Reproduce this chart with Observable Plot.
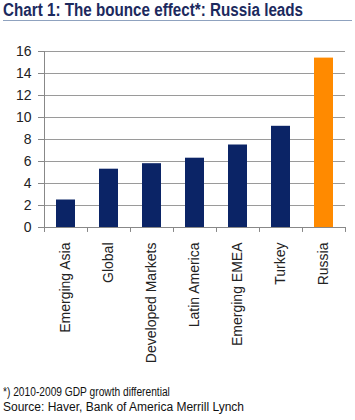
<!DOCTYPE html>
<html>
<head>
<meta charset="utf-8">
<script src="https://cdn.jsdelivr.net/npm/d3@7"></script>
<script src="https://cdn.jsdelivr.net/npm/@observablehq/plot@0.6"></script>
<style>
  html, body { margin: 0; padding: 0; background: #fff; }
  body { width: 355px; height: 420px; position: relative; overflow: hidden; font-family: "Liberation Sans", Arial, sans-serif; }
  #title { position: absolute; left: 3px; top: 0px; font-size: 18px; font-weight: bold; color: #1c2a5e; white-space: nowrap; transform-origin: left top; transform: scaleX(0.845); }
  #rule { position: absolute; left: 3px; top: 20px; width: 349px; height: 0; border-top: 1.5px solid #8fa2bf; }
  #chart { position: absolute; left: 0; top: 30px; }
  .note { position: absolute; left: 3px; font-size: 12px; color: #111; white-space: nowrap; transform-origin: left top; }
</style>
</head>
<body>
<div id="title">Chart 1: The bounce effect*: Russia leads</div>
<div id="rule"></div>
<div id="chart"></div>
<div class="note" style="top:385px; transform: scaleX(0.85)">*) 2010-2009 GDP growth differential</div>
<div class="note" style="top:400px">Source: Haver, Bank of America Merrill Lynch</div>
<script>
const categories = ["Emerging Asia", "Global", "Developed Markets", "Latin America", "Emerging EMEA", "Turkey", "Russia"];
const values = [2.5, 5.3, 5.8, 6.3, 7.5, 9.2, 15.4];
const highlight = ["no", "no", "no", "no", "no", "no", "yes"];
const yTicks = [0, 2, 4, 6, 8, 10, 12, 14, 16];

const data = categories.map((c, i) => ({ category: c, value: values[i], hl: highlight[i] }));
const firstCat = categories.slice(0, 1);
const lastCat = categories.slice(-1);

const chart = Plot.plot({
  width: 355,
  height: 345,
  marginLeft: 44,
  marginRight: 10,
  marginTop: 21,
  marginBottom: 148,
  style: { fontFamily: "'Liberation Sans', Arial, sans-serif", fontSize: "14px", color: "#222", background: "transparent" },
  x: { domain: categories, paddingInner: 0.56, paddingOuter: 0.28, label: null },
  y: { domain: [0, 16], label: null },
  color: { domain: ["no", "yes"], range: ["#0b2466", "#ff8a00"] },
  marks: [
    Plot.gridY(yTicks, { stroke: "#9a9a9a", strokeOpacity: 1, strokeWidth: 1 }),
    Plot.barY(data, { x: "category", y: "value", fill: "hl" }),
    Plot.ruleY([0], { stroke: "#888", strokeWidth: 1 }),
    Plot.ruleX(firstCat, { x: d => d, dx: -21.5, y1: -0.45, y2: 16, stroke: "#888" }),
    Plot.ruleX(categories, { x: d => d, dx: -21.5, y1: -0.45, y2: 0, stroke: "#888" }),
    Plot.ruleX(lastCat, { x: d => d, dx: 21.5, y1: -0.45, y2: 0, stroke: "#888" }),
    Plot.axisY(yTicks, { tickSize: 6, tickPadding: 7, stroke: "#888", fill: "#222", fontSize: 14 }),
    Plot.axisX({ tickSize: 0, tickRotate: -90, tickPadding: 15, fontSize: 14, fill: "#222" })
  ]
});
document.getElementById("chart").appendChild(chart);
</script>
</body>
</html>
